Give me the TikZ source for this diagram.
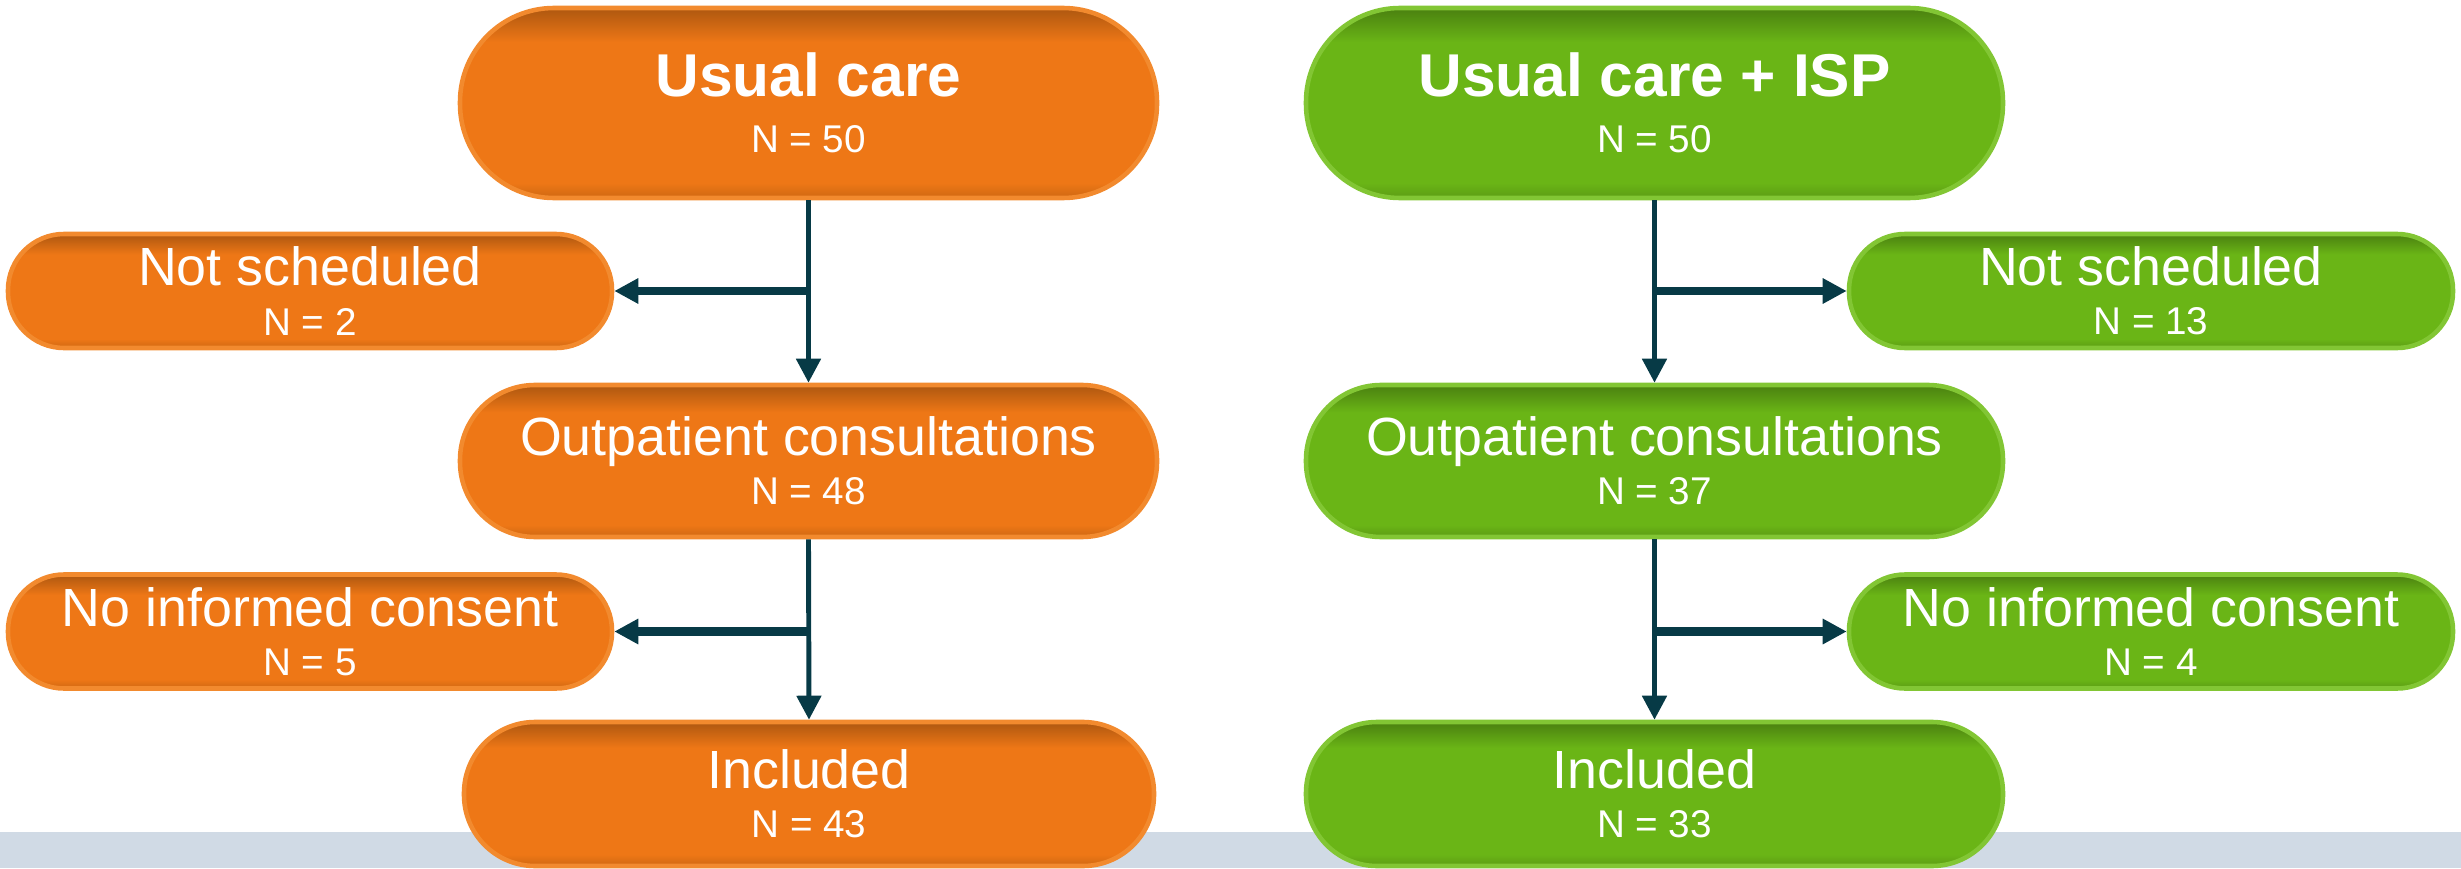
\documentclass[tikz,border=0pt]{standalone}
\usepackage{fontspec}
\setmainfont{Liberation Sans}
\usepackage{tikz}
\usetikzlibrary{arrows.meta}

\definecolor{carefill}{HTML}{EE7716}
\definecolor{caretop}{HTML}{AD5710}
\definecolor{carebottom}{HTML}{CF6812}
\definecolor{careline}{HTML}{F28A2E}
\definecolor{ispfill}{HTML}{6AB516}
\definecolor{isptop}{HTML}{4A8010}
\definecolor{ispbottom}{HTML}{5C9C14}
\definecolor{ispline}{HTML}{82C634}
\definecolor{flowcol}{HTML}{073A46}
\definecolor{bandcol}{HTML}{D0DAE5}

\pgfdeclareverticalshading{careshade}{100bp}{color(0bp)=(carebottom); color(25bp)=(carebottom); color(29bp)=(carefill); color(66bp)=(carefill); color(75bp)=(caretop); color(100bp)=(caretop)}
\pgfdeclareverticalshading{ispshade}{100bp}{color(0bp)=(ispbottom); color(25bp)=(ispbottom); color(29bp)=(ispfill); color(66bp)=(ispfill); color(75bp)=(isptop); color(100bp)=(isptop)}

\newcommand\headfont{\bfseries\fontsize{17.2}{20}\selectfont}
\newcommand\stepfont{\fontsize{15.3}{18}\selectfont}
\newcommand\countfont{\fontsize{11}{13}\selectfont}

\begin{document}
\begin{tikzpicture}[
  box/.style={line width=1.3pt, text=white, align=center, shade, font=\fontsize{10}{12}\selectfont},
  care/.style={box, draw=careline, shading=careshade},
  isp/.style={box, draw=ispline, shading=ispshade},
  headbox/.style={minimum width=6.97cm, minimum height=1.90cm, rounded corners=0.94cm},
  midbox/.style={minimum width=6.97cm, minimum height=1.52cm, rounded corners=0.75cm},
  endbox/.style={minimum width=6.90cm, minimum height=1.44cm, rounded corners=0.71cm},
  sidebox/.style={minimum width=6.04cm, minimum height=1.14cm, rounded corners=0.56cm},
  flow/.style={draw=flowcol, line width=1.4pt, -{Triangle[length=2.4mm,width=2.4mm]}},
  branch/.style={flow, line width=2.3pt}
]
\useasboundingbox (0,0) rectangle (24.61,8.68);
\fill[bandcol] (0,0) rectangle (24.61,0.36);% grey strip along the bottom

% usual care
\node[care, headbox] (uc) at (8.085,7.65) {{\headfont Usual care}\\[3.8pt]{\countfont N = 50}};
\node[care, sidebox] (ucns) at (3.10,5.77) {{\stepfont Not scheduled}\\[2pt]{\countfont N = 2}};
\node[care, midbox] (ucout) at (8.085,4.07) {{\stepfont Outpatient consultations}\\[2pt]{\countfont N = 48}};
\node[care, sidebox] (ucnc) at (3.10,2.365) {{\stepfont No informed consent}\\[2pt]{\countfont N = 5}};
\node[care, endbox] (ucin) at (8.09,0.74) {{\stepfont Included}\\[2pt]{\countfont N = 43}};

% usual care + ISP
\node[isp, headbox] (isp) at (16.545,7.65) {{\headfont Usual care + ISP}\\[3.8pt]{\countfont N = 50}};
\node[isp, sidebox] (ispns) at (21.51,5.77) {{\stepfont Not scheduled}\\[2pt]{\countfont N = 13}};
\node[isp, midbox] (ispout) at (16.545,4.07) {{\stepfont Outpatient consultations}\\[2pt]{\countfont N = 37}};
\node[isp, sidebox] (ispnc) at (21.51,2.365) {{\stepfont No informed consent}\\[2pt]{\countfont N = 4}};
\node[isp, headbox, minimum height=1.44cm, rounded corners=0.71cm] (ispin) at (16.545,0.74) {{\stepfont Included}\\[2pt]{\countfont N = 33}};

\draw[flow] (uc.south) -- (ucout.north);
\draw[flow] (ucout.south) -- (ucin.north);
\draw[branch] (uc.south |- ucns.east) -- (ucns.east);
\draw[branch] (ucout.south |- ucnc.east) -- (ucnc.east);

\draw[flow] (isp.south) -- (ispout.north);
\draw[flow] (ispout.south) -- (ispin.north);
\draw[branch] (isp.south |- ispns.west) -- (ispns.west);
\draw[branch] (ispout.south |- ispnc.west) -- (ispnc.west);
\end{tikzpicture}
\end{document}
